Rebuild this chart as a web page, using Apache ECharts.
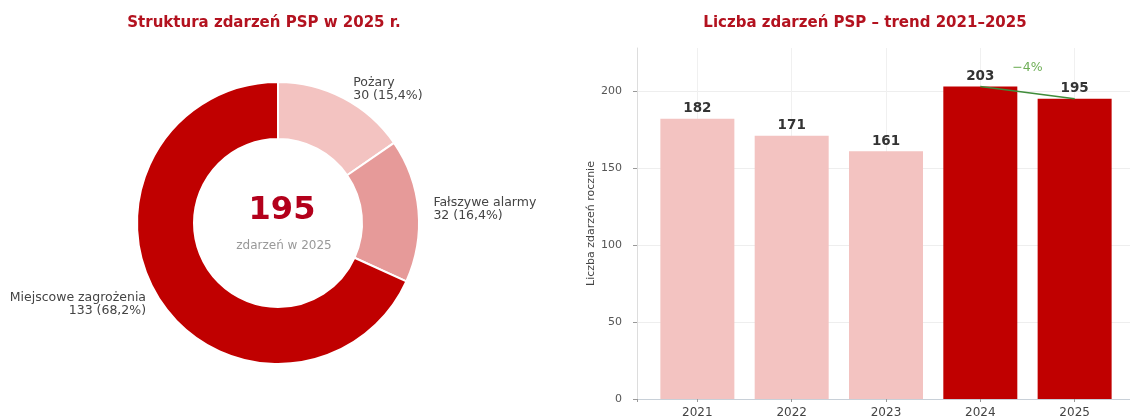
<!DOCTYPE html>
<html>
<head>
<meta charset="utf-8">
<script src="https://cdn.jsdelivr.net/npm/echarts@6/dist/echarts.min.js"></script>
<style>
html,body{margin:0;padding:0;background:#fff;}
#c{width:1130px;height:418px;}
</style>
</head>
<body>
<div id="c"></div>
<script>
// ---- data ----
const pieNames = ['Pożary', 'Fałszywe alarmy', 'Miejscowe zagrożenia'];
const pieValues = [30, 32, 133];
const years = ['2021', '2022', '2023', '2024', '2025'];
const yearValues = [182, 171, 161, 203, 195];
const yTicks = [0, 50, 100, 150, 200];

const FONT = 'DejaVu Sans';
const pieColors = ['#f3c3c1', '#e69a99', '#c00000'];
const total = pieValues.reduce((a, b) => a + b, 0);
const fmtPct = v => (v / total * 100).toFixed(1).replace('.', ',');

const n = yearValues.length;
const last = yearValues[n - 1], prev = yearValues[n - 2];
const change = Math.round((last - prev) / prev * 100);
const changeText = (change < 0 ? '\u2212' : '+') + Math.abs(change) + '%';

const chart = echarts.init(document.getElementById('c'), null, {renderer: 'canvas'});
chart.setOption({
  animation: false,
  textStyle: {fontFamily: FONT},
  title: [
    {text: 'Struktura zdarzeń PSP w 2025 r.', left: 259, top: 11, textAlign: 'center',
     textStyle: {fontFamily: FONT, fontSize: 15, fontWeight: 'bold', color: '#b3121f'}},
    {text: 'Liczba zdarzeń PSP – trend 2021–2025', left: 860, top: 11, textAlign: 'center',
     textStyle: {fontFamily: FONT, fontSize: 15, fontWeight: 'bold', color: '#b3121f'}},
    {text: String(total), left: 277, top: 190, textAlign: 'center',
     textStyle: {fontFamily: FONT, fontSize: 32, fontWeight: 'bold', color: '#b3001b'}},
    {text: 'zdarzeń w 2025', left: 279, top: 235, textAlign: 'center',
     textStyle: {fontFamily: FONT, fontSize: 12, fontWeight: 'normal', color: '#999'}}
  ],
  grid: {left: 637, top: 48, width: 498, bottom: 19, containLabel: false, outerBoundsMode: 'none'},
  xAxis: {
    type: 'value', min: -0.64, max: 4.64, minInterval: 1, maxInterval: 1,
    axisLine: {show: true, onZero: false, lineStyle: {color: '#c8d0d8', width: 1}},
    axisTick: {show: true, length: 3, lineStyle: {color: '#999'}},
    axisLabel: {
      color: '#444', fontSize: 12, margin: 8,
      formatter: v => (Number.isInteger(v) && years[v]) ? years[v] : ''
    },
    splitLine: {show: true, lineStyle: {color: '#f0f0f0', width: 1}}
  },
  yAxis: {
    type: 'value', min: 0, max: 228, interval: 50,
    name: 'Liczba zdarzeń rocznie', nameLocation: 'middle', nameGap: 40,
    nameTextStyle: {color: '#444', fontSize: 11},
    axisLine: {show: true, onZero: false, lineStyle: {color: '#ddd'}},
    axisTick: {show: true, length: 4, lineStyle: {color: '#999'}},
    axisLabel: {color: '#555', fontSize: 11, margin: 15, showMaxLabel: false,
      formatter: v => yTicks.includes(v) ? String(v) : ''},
    splitLine: {show: true, lineStyle: {color: ['#eeeeee', '#eeeeee', '#eeeeee', '#eeeeee', '#eeeeee', 'rgba(0,0,0,0)']}}
  },
  series: [
    {
      type: 'pie',
      center: [278, 223],
      radius: [84, 141],
      startAngle: 90,
      clockwise: true,
      avoidLabelOverlap: false,
      itemStyle: {borderColor: '#fff', borderWidth: 2},
      label: {
        show: true, position: 'outside', fontSize: 12.5, color: '#444', lineHeight: 13,
        formatter: p => p.name + '\n' + p.value + ' (' + fmtPct(p.value) + '%)'
      },
      labelLine: {show: false, length: 10, length2: 0},
      emphasis: {disabled: true},
      data: pieNames.map((nm, i) => ({name: nm, value: pieValues[i], itemStyle: {color: pieColors[i]}}))
    },
    {
      type: 'bar',
      barWidth: 74,
      data: yearValues.map((v, i) => [i, v]),
      itemStyle: {color: p => p.dataIndex >= n - 2 ? '#c00000' : '#f3c3c1'},
      label: {show: true, position: 'top', distance: 3, fontSize: 13.5, fontWeight: 'bold', color: '#333',
        formatter: p => String(p.value[1])},
      z: 2
    },
    {
      type: 'line',
      data: [[n - 2, prev], [n - 1, last]],
      symbol: 'none',
      lineStyle: {color: '#3f8c3a', width: 1.5},
      z: 3
    },
    {
      type: 'scatter',
      data: [[(n - 2 + n - 1) / 2, (prev + last) / 2]],
      symbolSize: 0,
      label: {show: true, position: 'top', distance: 18, color: '#4a9a2c', fontSize: 12.5,
        formatter: () => changeText},
      z: 4
    }
  ]
});
</script>
</body>
</html>
